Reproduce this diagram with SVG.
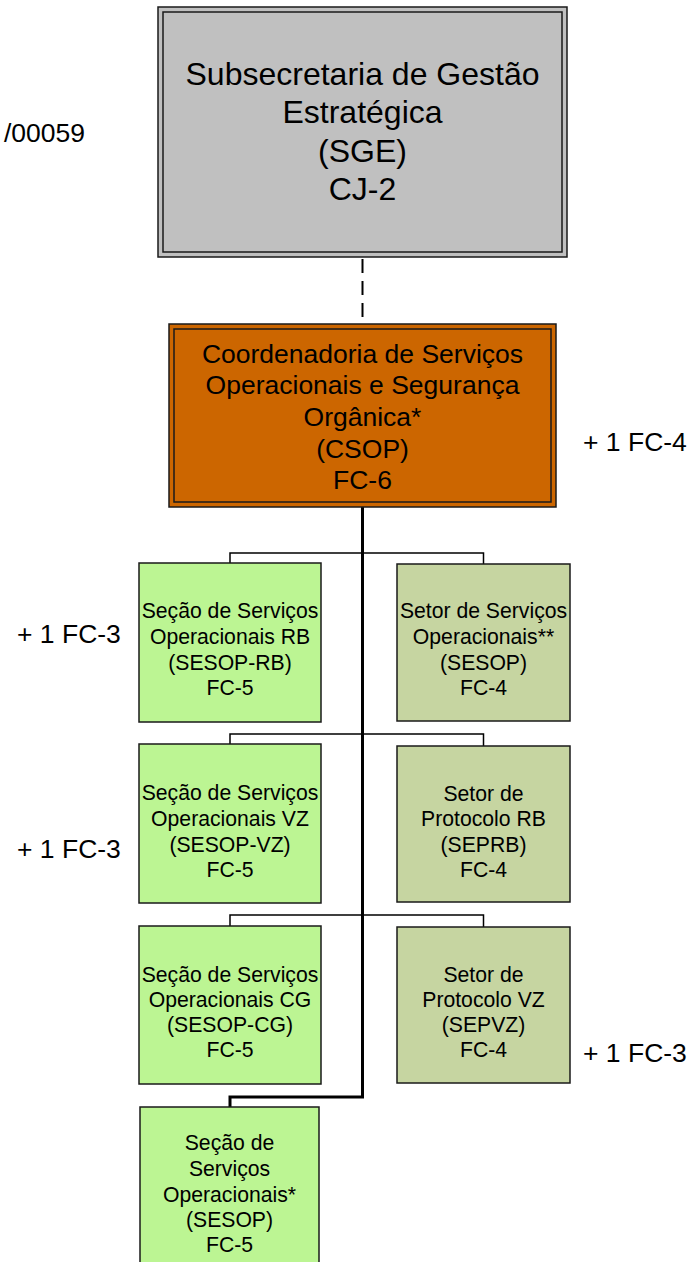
<svg xmlns="http://www.w3.org/2000/svg" width="690" height="1262" viewBox="0 0 690 1262">
<style>
text{font-family:"Liberation Sans",Arial,sans-serif;fill:#000;text-anchor:middle}
.b{stroke:#1a1a1a;stroke-width:1.5}
.green{fill:#BCF593}
.olive{fill:#C6D5A1}
.t32{font-size:32px}
.t26{font-size:26.5px}
.t21{font-size:21.2px}
.side{font-size:26.5px;text-anchor:start}
.thin{fill:none;stroke:#000;stroke-width:1.5}
</style>
<rect width="690" height="1262" fill="#fff"/>
<g id="connectors">
<line x1="362.5" y1="257" x2="362.5" y2="324" stroke="#000" stroke-width="2" stroke-dasharray="14,8" stroke-dashoffset="-2"/>
<polyline points="362.5,507 362.5,1097 230,1097 230,1107" fill="none" stroke="#000" stroke-width="3"/>
<polyline class="thin" points="230,563 230,553 483.5,553 483.5,564"/>
<polyline class="thin" points="230,744 230,734 483.5,734 483.5,746"/>
<polyline class="thin" points="230,926 230,915 483.5,915 483.5,927"/>
</g>
<g id="sge">
<rect x="158" y="7" width="409" height="250" fill="#C0C0C0" class="b"/>
<rect x="163" y="12" width="399" height="240" fill="none" class="b"/>
<text class="t32"><tspan x="362.5" y="85">Subsecretaria de Gestão</tspan><tspan x="362.5" y="123">Estratégica</tspan><tspan x="362.5" y="162">(SGE)</tspan><tspan x="362.5" y="200">CJ-2</tspan></text>
</g>
<g id="csop">
<rect x="169" y="324" width="387" height="183" fill="#CC6600" class="b"/>
<rect x="174" y="329" width="377" height="173" fill="none" class="b"/>
<text class="t26"><tspan x="362.5" y="363">Coordenadoria de Serviços</tspan><tspan x="362.5" y="394">Operacionais e Segurança</tspan><tspan x="362.5" y="426">Orgânica*</tspan><tspan x="362.5" y="458">(CSOP)</tspan><tspan x="362.5" y="489">FC-6</tspan></text>
</g>
<g id="sesop-rb">
<rect x="139" y="563" width="182" height="159" class="green b"/>
<text class="t21"><tspan x="230" y="618">Seção de Serviços</tspan><tspan x="230" y="644">Operacionais RB</tspan><tspan x="230" y="670">(SESOP-RB)</tspan><tspan x="230" y="695">FC-5</tspan></text>
</g>
<g id="sesop-setor">
<rect x="397" y="564" width="173" height="157" class="olive b"/>
<text class="t21"><tspan x="483.5" y="618">Setor de Serviços</tspan><tspan x="483.5" y="644">Operacionais**</tspan><tspan x="483.5" y="670">(SESOP)</tspan><tspan x="483.5" y="695">FC-4</tspan></text>
</g>
<g id="sesop-vz">
<rect x="139" y="744" width="182" height="159" class="green b"/>
<text class="t21"><tspan x="230" y="800">Seção de Serviços</tspan><tspan x="230" y="826">Operacionais VZ</tspan><tspan x="230" y="852">(SESOP-VZ)</tspan><tspan x="230" y="877">FC-5</tspan></text>
</g>
<g id="seprb">
<rect x="397" y="746" width="173" height="156" class="olive b"/>
<text class="t21"><tspan x="483.5" y="801">Setor de</tspan><tspan x="483.5" y="826">Protocolo RB</tspan><tspan x="483.5" y="852">(SEPRB)</tspan><tspan x="483.5" y="877">FC-4</tspan></text>
</g>
<g id="sesop-cg">
<rect x="139" y="926" width="182" height="158" class="green b"/>
<text class="t21"><tspan x="230" y="982">Seção de Serviços</tspan><tspan x="230" y="1007">Operacionais CG</tspan><tspan x="230" y="1032">(SESOP-CG)</tspan><tspan x="230" y="1057">FC-5</tspan></text>
</g>
<g id="sepvz">
<rect x="397" y="927" width="173" height="156" class="olive b"/>
<text class="t21"><tspan x="483.5" y="982">Setor de</tspan><tspan x="483.5" y="1007">Protocolo VZ</tspan><tspan x="483.5" y="1032">(SEPVZ)</tspan><tspan x="483.5" y="1057">FC-4</tspan></text>
</g>
<g id="sesop">
<rect x="140" y="1107" width="179" height="170" class="green b"/>
<text class="t21"><tspan x="229.5" y="1150">Seção de</tspan><tspan x="229.5" y="1176">Serviços</tspan><tspan x="229.5" y="1202">Operacionais*</tspan><tspan x="229.5" y="1227">(SESOP)</tspan><tspan x="229.5" y="1252">FC-5</tspan></text>
</g>
<g id="labels">
<text class="side" x="4" y="142">/00059</text>
<text class="side" x="583" y="451">+ 1 FC-4</text>
<text class="side" x="17" y="643">+ 1 FC-3</text>
<text class="side" x="17" y="858">+ 1 FC-3</text>
<text class="side" x="583" y="1062">+ 1 FC-3</text>
</g>
</svg>
